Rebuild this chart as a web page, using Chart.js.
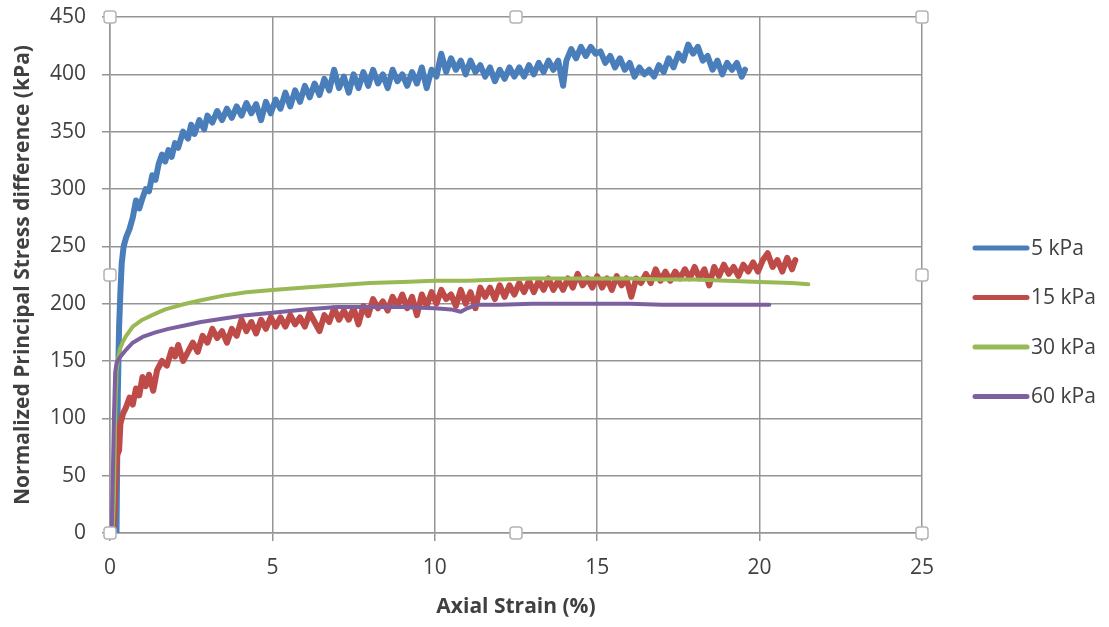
<!DOCTYPE html>
<html>
<head>
<meta charset="utf-8">
<script src="https://cdn.jsdelivr.net/npm/chart.js@4.4.0/dist/chart.umd.min.js"></script>
<style>
  html, body { margin: 0; padding: 0; background: #fff; }
  #wrap { width: 1109px; height: 627px; }
</style>
</head>
<body>
<div id="wrap"><canvas id="strainChart" width="1109" height="627"></canvas></div>
<script>
// series names
const seriesNames = ['5 kPa', '15 kPa', '30 kPa', '60 kPa'];
const xTicks = [0, 5, 10, 15, 20, 25];
const yTicks = [0, 50, 100, 150, 200, 250, 300, 350, 400, 450];

// 5 kPa (strain %, stress kPa)
const strain5 = [0.20,0.24,0.28,0.32,0.36,0.42,0.5,0.6,0.7,0.8,0.9,1.0,1.1,1.2,1.3,1.4,1.5,1.6,1.7,1.8,1.9,2.0,2.1,2.25,2.4,2.5,2.6,2.75,2.9,3.0,3.15,3.3,3.45,3.6,3.75,3.9,4.05,4.2,4.35,4.5,4.65,4.8,4.95,5.1,5.25,5.4,5.55,5.7,5.85,6.0,6.15,6.3,6.45,6.6,6.75,6.9,7.05,7.2,7.35,7.5,7.65,7.8,7.95,8.1,8.25,8.4,8.55,8.7,8.85,9.0,9.15,9.3,9.45,9.6,9.75,9.9,10.05,10.2,10.35,10.5,10.65,10.8,10.95,11.1,11.25,11.4,11.55,11.7,11.85,12.0,12.15,12.3,12.45,12.6,12.75,12.9,13.05,13.2,13.35,13.5,13.65,13.8,13.95,14.05,14.2,14.35,14.5,14.65,14.8,14.95,15.1,15.25,15.4,15.55,15.7,15.85,16.0,16.15,16.3,16.45,16.6,16.75,16.9,17.05,17.2,17.35,17.5,17.65,17.8,17.95,18.1,18.25,18.4,18.55,18.7,18.85,19.0,19.15,19.3,19.45,19.55];
const stress5 = [0,120,180,210,235,250,258,265,275,290,283,292,300,298,312,308,322,330,324,334,328,340,336,350,344,356,348,360,352,364,358,368,360,370,362,372,364,375,366,374,360,376,366,378,370,384,372,386,376,390,380,392,382,396,386,404,388,398,384,400,388,402,390,404,392,400,388,404,394,400,390,402,392,406,388,404,398,418,402,414,404,412,400,412,402,408,398,406,394,404,396,406,398,406,398,408,400,410,402,412,404,412,390,412,422,414,424,416,424,418,420,410,416,406,414,404,410,398,406,400,404,398,408,402,414,406,418,412,426,418,424,412,416,404,412,400,410,404,410,398,404];

// 15 kPa
const strain15 = [0.10,0.14,0.18,0.22,0.28,0.32,0.4,0.5,0.6,0.7,0.8,0.9,1.0,1.1,1.2,1.33,1.45,1.6,1.75,1.9,2.0,2.1,2.25,2.4,2.55,2.7,2.85,3.0,3.15,3.3,3.45,3.6,3.75,3.9,4.05,4.2,4.35,4.5,4.65,4.8,4.95,5.1,5.25,5.4,5.55,5.7,5.85,6.0,6.15,6.3,6.45,6.6,6.75,6.9,7.05,7.2,7.35,7.5,7.65,7.8,7.95,8.1,8.25,8.4,8.55,8.7,8.85,9.0,9.15,9.3,9.45,9.6,9.75,9.9,10.05,10.2,10.35,10.5,10.65,10.8,10.95,11.1,11.25,11.4,11.55,11.7,11.85,12.0,12.15,12.3,12.45,12.6,12.75,12.9,13.05,13.2,13.35,13.5,13.65,13.8,13.95,14.1,14.25,14.4,14.55,14.7,14.85,15.0,15.15,15.3,15.45,15.6,15.75,15.9,16.05,16.2,16.35,16.5,16.65,16.8,16.95,17.1,17.25,17.4,17.55,17.7,17.85,18.0,18.15,18.3,18.45,18.6,18.75,18.9,19.05,19.2,19.35,19.5,19.65,19.8,19.95,20.1,20.25,20.4,20.55,20.7,20.85,21.0,21.1];
const stress15 = [0,20,50,68,72,95,104,110,118,112,126,120,136,128,138,124,142,150,146,160,154,164,150,158,166,158,172,166,178,170,176,166,178,172,186,176,184,174,186,178,188,180,188,180,190,182,188,180,192,184,176,190,184,196,186,194,186,196,182,198,190,204,196,202,194,206,198,208,196,206,190,208,198,210,200,212,204,208,198,212,200,210,196,214,206,214,204,216,206,216,208,218,210,220,210,220,212,222,212,220,212,222,214,226,216,222,214,224,214,222,212,224,216,222,206,222,218,226,218,230,220,228,220,228,222,230,222,232,222,230,216,232,224,234,226,232,224,234,228,236,228,238,244,232,238,228,240,230,238];

// 30 kPa
const strain30 = [0.08,0.12,0.16,0.2,0.25,0.3,0.4,0.5,0.7,1.0,1.3,1.7,2.2,2.8,3.5,4.2,5.0,6.0,7.0,8.0,9.0,10.0,11.0,12.0,13.0,14.0,15.0,16.0,17.0,18.0,19.0,20.0,21.0,21.5];
const stress30 = [0,30,100,140,152,160,167,172,180,186,190,195,199,203,207,210,212,214,216,218,219,220,220,221,222,222,222,222,221,221,220,219,218,217];

// 60 kPa
const strain60 = [0.05,0.08,0.12,0.16,0.2,0.3,0.5,0.7,1.0,1.4,1.8,2.3,2.8,3.5,4.2,5.0,6.0,7.0,8.0,9.0,10.0,10.5,10.8,11.0,11.3,12.0,13.0,14.0,15.0,16.0,17.0,18.0,19.0,20.0,20.3];
const stress60 = [0,40,100,140,148,153,160,166,171,175,178,181,184,187,190,192,195,197,197,197,196,195,193,196,199,199,200,200,200,200,199,199,199,199,199];

const colors = ['#4a7ebb', '#be4b48', '#98b954', '#7d60a0'];
const widths = [6, 6, 4, 4];

function pairs(xs, ys) {
    return xs.map((x, i) => ({ x: x, y: ys[i] }));
}

const allSeries = [[strain5, stress5], [strain15, stress15], [strain30, stress30], [strain60, stress60]];

// Excel-like selection handles on the plot area
const handlesPlugin = {
    id: 'handles',
    afterDraw(chart) {
        const { ctx, chartArea: a } = chart;
        const mx = (a.left + a.right) / 2, my = (a.top + a.bottom) / 2;
        const spots = [[a.left, a.top], [mx, a.top], [a.right, a.top], [a.left, my], [a.right, my], [a.left, a.bottom], [mx, a.bottom], [a.right, a.bottom]];
        ctx.save();
        ctx.fillStyle = '#fff';
        ctx.strokeStyle = '#b4b4b4';
        ctx.lineWidth = 1.5;
        spots.forEach(([x, y]) => {
            ctx.beginPath();
            ctx.roundRect(x - 6, y - 6, 12, 12, 3);
            ctx.fill();
            ctx.stroke();
        });
        ctx.restore();
    }
};

// legend drawn at the right like the original
const legendPlugin = {
    id: 'sideLegend',
    afterDraw(chart) {
        const ctx = chart.ctx;
        ctx.save();
        ctx.font = '21px "Open Sans"';
        ctx.textBaseline = 'middle';
        ctx.lineCap = 'round';
        chart.data.datasets.forEach((ds, i) => {
            const y = 248 + i * 49.5;
            ctx.strokeStyle = ds.borderColor;
            ctx.lineWidth = 5;
            ctx.beginPath();
            ctx.moveTo(975, y);
            ctx.lineTo(1027, y);
            ctx.stroke();
            ctx.fillStyle = '#404040';
            ctx.fillText(ds.label, 1031, y + 1);
        });
        ctx.restore();
    }
};

const ctx = document.getElementById('strainChart').getContext('2d');
new Chart(ctx, {
    type: 'line',
    data: {
        datasets: allSeries.map((s, i) => ({
            label: seriesNames[i],
            data: pairs(s[0], s[1]),
            borderColor: colors[i],
            backgroundColor: colors[i],
            borderWidth: widths[i],
            borderJoinStyle: 'round',
            borderCapStyle: 'round',
            pointRadius: 0,
            tension: 0,
            fill: false,
            order: 4 - i
        }))
    },
    options: {
        responsive: false,
        animation: false,
        layout: { padding: { top: 17, right: 187, left: 0, bottom: 0 } },
        plugins: {
            legend: { display: false },
            tooltip: { enabled: false }
        },
        scales: {
            x: {
                type: 'linear',
                min: 0,
                max: 25,
                afterBuildTicks: (scale) => { scale.ticks = xTicks.map(v => ({ value: v })); },
                afterFit: (scale) => { scale.height = 94; scale.paddingLeft = 0; scale.paddingRight = 0; },
                grid: { color: '#959595', lineWidth: 1.5, tickLength: 8 },
                border: { color: '#959595', width: 1.5 },
                ticks: { color: '#404040', font: { family: 'Open Sans', size: 21 }, padding: 14, maxRotation: 0 },
                title: {
                    display: true,
                    text: 'Axial Strain (%)',
                    color: '#404040',
                    font: { family: 'Open Sans', size: 21, weight: 'bold' },
                    padding: { top: 0, bottom: 7 }
                }
            },
            y: {
                min: 0,
                max: 450,
                afterBuildTicks: (scale) => { scale.ticks = yTicks.map(v => ({ value: v })); },
                afterFit: (scale) => { scale.width = 110; scale.paddingTop = 0; scale.paddingBottom = 0; },
                grid: { color: '#959595', lineWidth: 1.5, tickLength: 8 },
                border: { color: '#959595', width: 1.5 },
                ticks: { color: '#404040', font: { family: 'Open Sans', size: 21 }, padding: 16 },
                title: {
                    display: true,
                    text: 'Normalized Principal Stress difference (kPa)',
                    color: '#404040',
                    font: { family: 'Open Sans', size: 21, weight: 'bold' },
                    padding: { top: 10, bottom: 0 }
                }
            }
        }
    },
    plugins: [handlesPlugin, legendPlugin]
});
</script>
</body>
</html>
